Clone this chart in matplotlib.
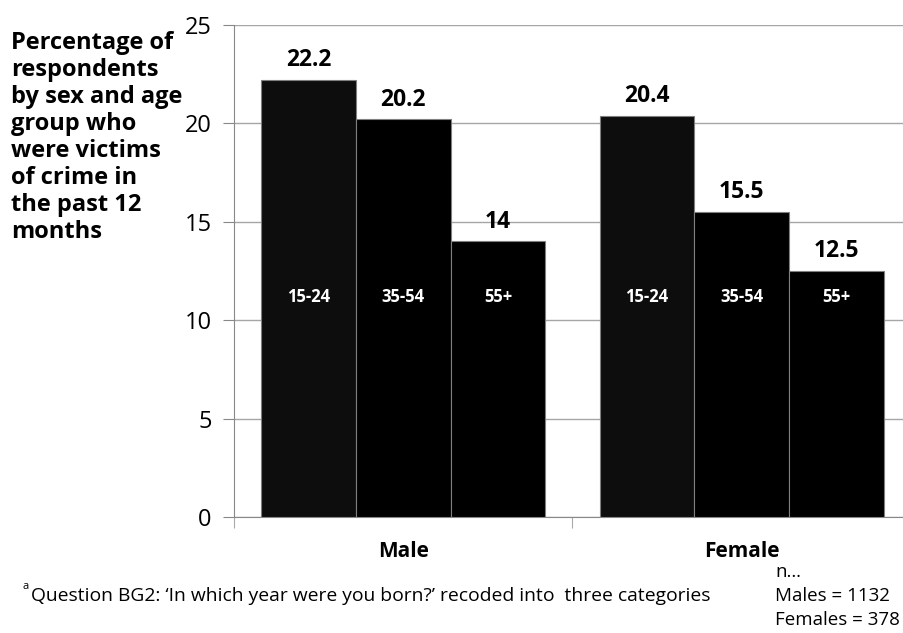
import numpy as np
import matplotlib
matplotlib.use("Agg")
import matplotlib.pyplot as plt

plt.rcParams["font.family"] = ["Open Sans", "DejaVu Sans"]

# data
sexes = ["Male", "Female"]
age_groups = ["15-24", "35-54", "55+"]
male_vals = [22.2, 20.2, 14]
female_vals = [20.4, 15.5, 12.5]
bar_colors = ["#0d0d0d", "#000000", "#000000"]

W, H = 904, 633
fig = plt.figure(figsize=(W / 100, H / 100), dpi=100)
ax = fig.add_axes([234 / W, 1 - 517 / H, (911 - 234) / W, (517 - 25) / H])

x = np.arange(len(sexes))
width = 0.28
vals = np.array([male_vals, female_vals])
for i, ag in enumerate(age_groups):
    pos = x + (i - 1) * width
    ax.bar(pos, vals[:, i], width, color=bar_colors[i],
           edgecolor="#7f7f7f", linewidth=0.8, zorder=3)
    for p, v in zip(pos, vals[:, i]):
        ax.text(p, v + 1.0, f"{v:g}", ha="center", va="center",
                fontsize=16.5, fontweight="bold", color="black")
        ax.text(p, 11.2, ag, ha="center", va="center",
                fontsize=12, fontweight="bold", color="white", zorder=4)

ax.set_ylim(0, 25)
ax.set_xlim(-0.5, 1.5)
ax.set_yticks([0, 5, 10, 15, 20, 25])
ax.tick_params(axis="y", labelsize=17, length=8, color="#888888", pad=8)
ax.yaxis.grid(True, color="#a6a6a6", linewidth=1)
ax.set_axisbelow(True)

ax.set_xticks([-0.5, 0.5, 1.5])
ax.set_xticklabels([])
ax.tick_params(axis="x", length=8, color="#aaaaaa")
for xi, s in zip(x, sexes):
    ax.text(xi, -1.75, s, ha="center", va="center", fontsize=15,
            fontweight="bold", transform=ax.transData)

for side in ["top", "right"]:
    ax.spines[side].set_visible(False)
ax.spines["left"].set_color("#888888")
ax.spines["bottom"].set_color("#888888")

fig.text(11 / W, 1 - 31 / H,
         "Percentage of\nrespondents\nby sex and age\ngroup who\nwere victims\nof crime in\nthe past 12\nmonths",
         ha="left", va="top", fontsize=17, fontweight="bold",
         linespacing=1.165)

fig.text(31 / W, 1 - 596 / H,
         "Question BG2: \u2018In which year were you born?\u2019 recoded into  three categories",
         ha="left", va="center", fontsize=13.9)
fig.text(29 / W, 1 - 592 / H, "a", ha="right", va="bottom", fontsize=8)
fig.text(775 / W, 1 - 563 / H, "n\u2026\nMales = 1132\nFemales = 378",
         ha="left", va="top", fontsize=13.5, linespacing=1.42)

fig.savefig("out.png", dpi=100)
